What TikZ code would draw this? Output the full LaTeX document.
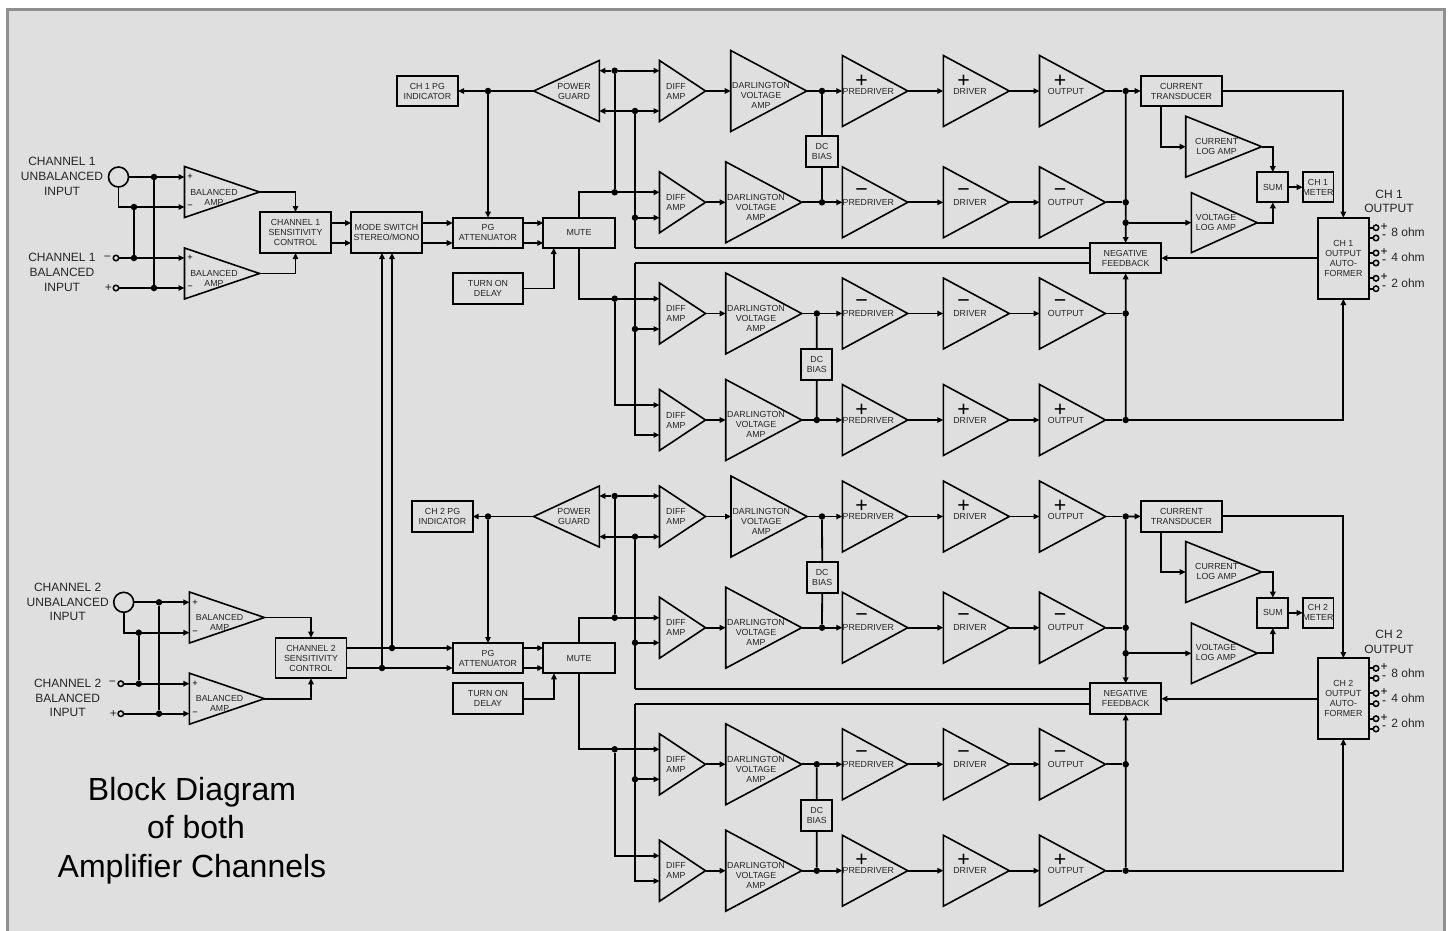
\documentclass[tikz,border=0pt]{standalone}
\usepackage{fontspec}
\setmainfont{Liberation Sans}
\usetikzlibrary{arrows.meta,shapes.geometric}
\newlength{\du}
\setlength{\du}{0.75pt}
\definecolor{dialinecolor}{rgb}{0.000000, 0.000000, 0.000000}
\definecolor{diafillcolor}{rgb}{0.874510, 0.874510, 0.874510}
\definecolor{diaframecolor}{rgb}{0.560000, 0.560000, 0.560000}
\definecolor{diatextcolor}{rgb}{0.150000, 0.150000, 0.150000}
\tikzset{
  >={Triangle[length=4.5pt,width=4.1pt]},
  wire/.style={line width=1.8\du,draw=dialinecolor},
  blockbody/.style={draw=dialinecolor,line width=1.8\du,inner sep=0pt,outer sep=0pt,align=center,text=diatextcolor,font=\fontsize{6.6}{7.5}\selectfont},
  ampbody/.style={draw=dialinecolor,line width=1.6\du,inner sep=0pt,outer sep=0pt,isosceles triangle,isosceles triangle stretches,anchor=lower side},
  smalltext/.style={inner sep=0pt,outer sep=0pt,align=center,text=diatextcolor,font=\fontsize{6.6}{7.5}\selectfont},
  bigtext/.style={inner sep=0pt,outer sep=0pt,align=center,text=diatextcolor,font=\fontsize{9}{11}\selectfont},
  titletext/.style={inner sep=0pt,outer sep=0pt,align=center,text=dialinecolor,font=\fontsize{24}{28.7}\selectfont},
  signtext/.style={inner sep=0pt,outer sep=0pt,text=dialinecolor,font=\fontsize{16}{16}\selectfont},
  tinysign/.style={inner sep=0pt,outer sep=0pt,text=dialinecolor,font=\fontsize{7}{7}\selectfont},
  tapsign/.style={inner sep=0pt,outer sep=0pt,text=dialinecolor,font=\fontsize{9}{9}\selectfont},
  dotnode/.style={circle,fill=dialinecolor,inner sep=0pt,outer sep=0pt,minimum size=6.5\du},
  portnode/.style={circle,draw=dialinecolor,line width=1.5\du,inner sep=0pt,outer sep=0pt,minimum size=5.5\du},
  jacknode/.style={circle,draw=dialinecolor,line width=1.6\du,inner sep=0pt,outer sep=0pt,minimum size=20\du}
}
% corners of the box, then its text
\newcommand{\blocknode}[6]{
  \node[blockbody,minimum width=#4\du-#2\du,minimum height=#5\du-#3\du] (#1) at (#2\du/2+#4\du/2,#3\du/2+#5\du/2) {#6};
}
% base x, middle y, length, height, text x, text y, text
\newcommand{\ampnode}[9][]{
  \node[ampbody,minimum height=#5\du,minimum width=#6\du,#1] (#2) at (#3\du,#4\du) {};
  \node[smalltext] (#2t) at (#7\du,#8\du) {#9};
}
% one row: name, y, darlington x, sign, junction x
\newcommand{\amprow}[5]{
  \pgfmathsetmacro{\rowtx}{#3+30.3}
  \pgfmathsetmacro{\rowty}{#2+4.7}
  \ampnode{#1d}{659.5}{#2}{46}{61}{676}{#2}{DIFF\\AMP}
  \ampnode{#1v}{#3}{#2}{76}{81}{\rowtx}{\rowty}{DARLINGTON\\VOLTAGE\\AMP}
  \ampnode{#1p}{842.3}{#2}{65.5}{71}{868.3}{#2}{PREDRIVER}
  \ampnode{#1r}{943.3}{#2}{66}{71}{970}{#2}{DRIVER}
  \ampnode{#1o}{1039.5}{#2}{66}{71}{1066}{#2}{OUTPUT}
  \node[signtext] (#1ps) at (861.7\du,#2\du-10\du) {#4};
  \node[signtext] (#1rs) at (963.7\du,#2\du-10\du) {#4};
  \node[signtext] (#1os) at (1060\du,#2\du-10\du) {#4};
  \node[dotnode] (#1j) at (#5\du,#2\du) {};
  \node[dotnode] (#1k) at (1125.7\du,#2\du) {};
  \draw[wire,->] (#1d.apex)--(#1v.lower side);
  \draw[wire] (#1v.apex)--(#1j);
  \draw[wire,->] (#1j)--(#1p.lower side);
  \draw[wire,->] (#1p.apex)--(#1r.lower side);
  \draw[wire,->] (#1r.apex)--(#1o.lower side);
  \draw[wire] (#1o.apex)--(#1k);
}
% one speaker terminal: name, y, sign, autoformer
\newcommand{\taplead}[4]{
  \node[portnode] (#1) at (1376\du,#2\du) {};
  \node[tapsign] (#1s) at (1384\du,#2\du-1\du) {#3};
  \draw[wire] (#1 -| #4.east)--(#1);
}
\begin{document}
\begin{tikzpicture}
\pgftransformxscale{1.000000}
\pgftransformyscale{-1.000000}
\useasboundingbox (0\du,0\du) rectangle (1449\du,931\du);
\fill[white] (0\du,0\du) rectangle (1449\du,931\du);
\fill[diafillcolor] (7.5\du,9.5\du) rectangle (1444.5\du,931\du);
\draw[diaframecolor,line width=3\du] (7.5\du,931\du)--(7.5\du,9.5\du)--(1444.5\du,9.5\du)--(1444.5\du,931\du);
\node[titletext] (title) at (192\du,830.5\du) {Block Diagram\\\hspace*{8\du}of both\\Amplifier Channels};
% channel 1 inputs
\node[bigtext] (ain1t) at (62\du,176.5\du) {CHANNEL 1\\UNBALANCED\\INPUT};
\node[bigtext] (ain2t) at (62\du,272.5\du) {CHANNEL 1\\BALANCED\\INPUT};
\node[jacknode] (ajack) at (118.5\du,177\du) {};
\node[portnode] (aneg) at (116\du,258\du) {};
\node[portnode] (apos) at (116\du,288\du) {};
\node[bigtext] (anegs) at (107.5\du,258\du) {−};
\node[bigtext] (aposs) at (108.5\du,288\du) {+};
\ampnode{aa1}{184.5}{192}{75}{51}{214}{197}{BALANCED\\AMP}
\ampnode{aa2}{184.5}{273.5}{75}{51}{214}{278}{BALANCED\\AMP}
\node[tinysign] (aa1p) at (190\du,177\du) {+};
\node[tinysign] (aa1m) at (190\du,207\du) {−};
\node[tinysign] (aa2p) at (190\du,258\du) {+};
\node[tinysign] (aa2m) at (190\du,288\du) {−};
\node[dotnode] (ad1) at (154\du,177\du) {};
\node[dotnode] (ad2) at (134\du,207\du) {};
\node[dotnode] (ad3) at (134\du,258\du) {};
\node[dotnode] (ad4) at (154\du,288\du) {};
\blocknode{asens}{260}{212}{331}{253}{CHANNEL 1\\SENSITIVITY\\CONTROL}
\blocknode{amode}{351}{212}{422}{253}{MODE SWITCH\\STEREO/MONO}
\blocknode{aatt}{452.7}{217.7}{523.3}{248}{PG\\ATTENUATOR}
\blocknode{amute}{543.3}{217.7}{614.7}{248}{MUTE}
\blocknode{adelay}{452.7}{273.3}{523.3}{304}{TURN ON\\DELAY}
\blocknode{aind}{396.7}{76}{458}{106}{CH 1 PG\\INDICATOR}
\ampnode[shape border rotate=180]{aguard}{599.3}{91}{65.6}{61}{574}{91}{POWER\\GUARD}
\coordinate (arail1) at (0\du,223\du);
\coordinate (arail2) at (0\du,243\du);
\draw[wire,->] (ajack)--(ajack -| aa1.lower side);
\draw[wire,->] (ajack.south) |- (ad2 -| aa1.lower side);
\draw[wire,->] (aneg)--(aneg -| aa2.lower side);
\draw[wire,->] (apos)--(apos -| aa2.lower side);
\draw[wire] (ad2)--(ad3);
\draw[wire] (ad1)--(ad4);
\draw[wire,->] (aa1.apex) -| (asens.north);
\draw[wire,->] (aa2.apex) -| (asens.south);
\draw[wire,->] (arail1 -| asens.east)--(arail1 -| amode.west);
\draw[wire,->] (arail2 -| asens.east)--(arail2 -| amode.west);
\draw[wire,->] (arail1 -| amode.east)--(arail1 -| aatt.west);
\draw[wire,->] (arail2 -| amode.east)--(arail2 -| aatt.west);
\draw[wire,->] (arail1 -| aatt.east)--(arail1 -| amute.west);
\draw[wire,->] (arail2 -| aatt.east)--(arail2 -| amute.west);
% channel 1 amplifier rows
\amprow{a1}{91}{730.7}{+}{822}
\amprow{a2}{202.3}{725.7}{−}{822}
\amprow{a3}{313.5}{725.7}{−}{816.8}
\amprow{a4}{420}{725.7}{+}{816.8}
\blocknode{a12b}{806.3}{136}{837.7}{167}{DC\\BIAS}
\blocknode{a34b}{801.3}{349.3}{832.3}{379.7}{DC\\BIAS}
\draw[wire] (a1j)--(a12b.north);
\draw[wire] (a12b.south)--(a2j);
\draw[wire] (a3j)--(a34b.north);
\draw[wire] (a34b.south)--(a4j);
\node[dotnode] (apg) at (488\du,91\du) {};
\node[dotnode] (ag1) at (614.7\du,70.7\du) {};
\node[dotnode] (ag2) at (635\du,111\du) {};
\node[dotnode] (am1) at (614.7\du,192.3\du) {};
\node[dotnode] (am2) at (635\du,217.7\du) {};
\node[dotnode] (am3) at (614.7\du,298.7\du) {};
\node[dotnode] (am4) at (635\du,329\du) {};
\coordinate (afb1) at (635\du,248.3\du);
\coordinate (afb2) at (635\du,262.7\du);
\coordinate (am5) at (614.7\du,405\du);
\coordinate (am6) at (635\du,435\du);
\coordinate (adx) at (553.7\du,288.5\du);
\draw[wire] (aguard.apex)--(apg);
\draw[wire,->] (apg)--(aind.east);
\draw[wire,->] (apg)--(aatt.north);
\draw[wire,->] (ag1)--(ag1 -| aguard.lower side);
\draw[wire,->] (ag1)--(ag1 -| a1d.lower side);
\draw[wire,->] (ag2)--(ag2 -| aguard.lower side);
\draw[wire,->] (ag2)--(ag2 -| a1d.lower side);
\draw[wire,->] (amute.north) |- (am1 -| a2d.lower side);
\draw[wire] (am1)--(ag1);
\draw[wire,->] (am2)--(am2 -| a2d.lower side);
\draw[wire] (ag2)--(afb1);
\draw[wire,->] (amute.south) |- (am3 -| a3d.lower side);
\draw[wire,->] (am3) |- (am5 -| a4d.lower side);
\draw[wire,->] (am4)--(am4 -| a3d.lower side);
\draw[wire,->] (adelay.east |- adx)--(adx)--(adx |- amute.south);
% channel 1 output side
\blocknode{anf}{1090}{243}{1161.3}{273.3}{NEGATIVE\\FEEDBACK}
\blocknode{act}{1140.7}{76}{1222.3}{106}{CURRENT\\TRANSDUCER}
\blocknode{asum}{1257.3}{172}{1288.3}{202.3}{SUM}
\blocknode{ameter}{1302.7}{172}{1333.3}{202.3}{CH 1\\METER}
\blocknode{aout}{1318}{217.7}{1368.7}{299}{CH 1\\OUTPUT\\AUTO-\\FORMER}
\ampnode{acl}{1185.7}{146.7}{76}{61}{1216.7}{146}{CURRENT\\LOG AMP}
\ampnode{avl}{1191.3}{222.7}{66}{60}{1216}{222.3}{VOLTAGE\\LOG AMP}
\node[dotnode] (ajv) at (1125.7\du,222.7\du) {};
\coordinate (acx) at (1161\du,106\du);
\draw[wire] (afb1)--(afb1 -| anf.west);
\draw[wire] (afb2 -| anf.west)--(afb2);
\draw[wire,->] (afb2) |- (am6 -| a4d.lower side);
\draw[wire,->] (a1k)--(anf.north);
\draw[wire,->] (a4k)--(anf.south);
\draw[wire,->] (a1k)--(act.west);
\draw[wire,->] (act.east) -| (aout.north);
\draw[wire,->] (acx) |- (acl.lower side);
\draw[wire,->] (acl.apex) -| (asum.north);
\draw[wire,->] (ajv)--(avl.lower side);
\draw[wire,->] (avl.apex) -| (asum.south);
\draw[wire,->] (asum.east)--(ameter.west);
\draw[wire,->] (a4k) -| (aout.south);
\draw[wire,->] (anf.east -| aout.west)--(anf.east);
\taplead{at1}{227.7}{+}{aout}
\taplead{at2}{238}{-}{aout}
\taplead{at3}{253}{+}{aout}
\taplead{at4}{263}{-}{aout}
\taplead{at5}{278.3}{+}{aout}
\taplead{at6}{288.7}{-}{aout}
\node[bigtext] (aot) at (1389\du,201.5\du) {CH 1\\OUTPUT};
\node[bigtext] (aoh1) at (1408\du,232.3\du) {8 ohm};
\node[bigtext] (aoh2) at (1408\du,257.7\du) {4 ohm};
\node[bigtext] (aoh3) at (1408\du,283\du) {2 ohm};
% channel 2 inputs
\node[bigtext] (bin1t) at (67.7\du,602\du) {CHANNEL 2\\UNBALANCED\\INPUT};
\node[bigtext] (bin2t) at (67.7\du,698\du) {CHANNEL 2\\BALANCED\\INPUT};
\node[jacknode] (bjack) at (123.7\du,602.3\du) {};
\node[portnode] (bneg) at (120.8\du,683.7\du) {};
\node[portnode] (bpos) at (120.8\du,713.7\du) {};
\node[bigtext] (bnegs) at (112.3\du,683.7\du) {−};
\node[bigtext] (bposs) at (113.3\du,713.7\du) {+};
\ampnode{ba1}{189.4}{617.5}{75}{51}{219.6}{622}{BALANCED\\AMP}
\ampnode{ba2}{189.4}{698.7}{75}{51}{219.6}{703}{BALANCED\\AMP}
\node[tinysign] (ba1p) at (195\du,602.3\du) {+};
\node[tinysign] (ba1m) at (195\du,632.7\du) {−};
\node[tinysign] (ba2p) at (195\du,683.7\du) {+};
\node[tinysign] (ba2m) at (195\du,713.7\du) {−};
\node[dotnode] (bd1) at (159\du,602.3\du) {};
\node[dotnode] (bd2) at (138.8\du,632.7\du) {};
\node[dotnode] (bd3) at (138.8\du,683.7\du) {};
\node[dotnode] (bd4) at (159\du,713.7\du) {};
\blocknode{bsens}{275.5}{637.7}{346.5}{678.3}{CHANNEL 2\\SENSITIVITY\\CONTROL}
\blocknode{batt}{452.7}{643}{523.3}{673.3}{PG\\ATTENUATOR}
\blocknode{bmute}{543.3}{643}{614.7}{673.3}{MUTE}
\blocknode{bdelay}{452.7}{683.3}{523.3}{714.3}{TURN ON\\DELAY}
\blocknode{bind}{412.3}{501}{472.7}{532}{CH 2 PG\\INDICATOR}
\ampnode[shape border rotate=180]{bguard}{599.3}{516.5}{65.6}{61}{574}{516.5}{POWER\\GUARD}
\node[dotnode] (bm1) at (392\du,648\du) {};
\node[dotnode] (bm2) at (382\du,668\du) {};
\draw[wire,->] (bjack)--(bjack -| ba1.lower side);
\draw[wire,->] (bjack.south) |- (bd2 -| ba1.lower side);
\draw[wire,->] (bneg)--(bneg -| ba2.lower side);
\draw[wire,->] (bpos)--(bpos -| ba2.lower side);
\draw[wire] (bd2)--(bd3);
\draw[wire] (bd1)--(bd4);
\draw[wire,->] (ba1.apex) -| (bsens.north);
\draw[wire,->] (ba2.apex) -| (bsens.south);
\draw[wire,->] (bm1 -| bsens.east)--(bm1 -| batt.west);
\draw[wire,->] (bm2 -| bsens.east)--(bm2 -| batt.west);
\draw[wire,->] (bm1 -| batt.east)--(bm1 -| bmute.west);
\draw[wire,->] (bm2 -| batt.east)--(bm2 -| bmute.west);
\draw[wire,->] (bm1)--(bm1 |- amode.south);
\draw[wire,->] (bm2)--(bm2 |- amode.south);
% channel 2 amplifier rows
\amprow{b1}{516.5}{731}{+}{822}
\amprow{b2}{627.7}{725.7}{−}{822}
\amprow{b3}{764.3}{725.7}{−}{816.8}
\amprow{b4}{870.7}{725.7}{+}{816.8}
\blocknode{b12b}{806.7}{561.7}{837.7}{592.7}{DC\\BIAS}
\blocknode{b34b}{801.3}{799.7}{832.3}{830.7}{DC\\BIAS}
\draw[wire] (b1j)--(b12b.north);
\draw[wire] (b12b.south)--(b2j);
\draw[wire] (b3j)--(b34b.north);
\draw[wire] (b34b.south)--(b4j);
\node[dotnode] (bpg) at (488\du,516.5\du) {};
\node[dotnode] (bg1) at (614.7\du,496\du) {};
\node[dotnode] (bg2) at (635\du,536.7\du) {};
\node[dotnode] (bn1) at (614.7\du,617.7\du) {};
\node[dotnode] (bn2) at (635\du,642.7\du) {};
\node[dotnode] (bn3) at (614.7\du,749.3\du) {};
\node[dotnode] (bn4) at (635\du,779.3\du) {};
\coordinate (bfb1) at (635\du,688.7\du);
\coordinate (bfb2) at (635\du,703.7\du);
\coordinate (bn5) at (614.7\du,855.7\du);
\coordinate (bn6) at (635\du,881\du);
\coordinate (bdx) at (554\du,699\du);
\draw[wire] (bguard.apex)--(bpg);
\draw[wire,->] (bpg)--(bind.east);
\draw[wire,->] (bpg)--(batt.north);
\draw[wire,->] (bg1)--(bg1 -| bguard.lower side);
\draw[wire,->] (bg1)--(bg1 -| b1d.lower side);
\draw[wire,->] (bg2)--(bg2 -| bguard.lower side);
\draw[wire,->] (bg2)--(bg2 -| b1d.lower side);
\draw[wire,->] (bmute.north) |- (bn1 -| b2d.lower side);
\draw[wire] (bn1)--(bg1);
\draw[wire,->] (bn2)--(bn2 -| b2d.lower side);
\draw[wire] (bg2)--(bfb1);
\draw[wire,->] (bmute.south) |- (bn3 -| b3d.lower side);
\draw[wire,->] (bn3) |- (bn5 -| b4d.lower side);
\draw[wire,->] (bn4)--(bn4 -| b3d.lower side);
\draw[wire,->] (bdelay.east |- bdx)--(bdx)--(bdx |- bmute.south);
% channel 2 output side
\blocknode{bnf}{1090}{683.3}{1161.3}{714.3}{NEGATIVE\\FEEDBACK}
\blocknode{bct}{1140.7}{501}{1222.3}{531.7}{CURRENT\\TRANSDUCER}
\blocknode{bsum}{1257.3}{597.7}{1288.3}{628}{SUM}
\blocknode{bmeter}{1302.7}{597.7}{1333.3}{628}{CH 2\\METER}
\blocknode{bout}{1318}{658}{1368.7}{739}{CH 2\\OUTPUT\\AUTO-\\FORMER}
\ampnode{bcl}{1185.7}{572}{76}{61}{1216.7}{571}{CURRENT\\LOG AMP}
\ampnode{bvl}{1191.3}{653.3}{66}{60.6}{1216}{652.8}{VOLTAGE\\LOG AMP}
\node[dotnode] (bjv) at (1125.7\du,653.3\du) {};
\coordinate (bcx) at (1161\du,531.7\du);
\draw[wire] (bfb1)--(bfb1 -| bnf.west);
\draw[wire] (bfb2 -| bnf.west)--(bfb2);
\draw[wire,->] (bfb2) |- (bn6 -| b4d.lower side);
\draw[wire,->] (b1k)--(bnf.north);
\draw[wire,->] (b4k)--(bnf.south);
\draw[wire,->] (b1k)--(bct.west);
\draw[wire,->] (bct.east) -| (bout.north);
\draw[wire,->] (bcx) |- (bcl.lower side);
\draw[wire,->] (bcl.apex) -| (bsum.north);
\draw[wire,->] (bjv)--(bvl.lower side);
\draw[wire,->] (bvl.apex) -| (bsum.south);
\draw[wire,->] (bsum.east)--(bmeter.west);
\draw[wire,->] (b4k) -| (bout.south);
\draw[wire,->] (bnf.east -| bout.west)--(bnf.east);
\taplead{bt1}{668.3}{+}{bout}
\taplead{bt2}{678.3}{-}{bout}
\taplead{bt3}{693.3}{+}{bout}
\taplead{bt4}{703.7}{-}{bout}
\taplead{bt5}{718.7}{+}{bout}
\taplead{bt6}{729}{-}{bout}
\node[bigtext] (bot) at (1389\du,642\du) {CH 2\\OUTPUT};
\node[bigtext] (boh1) at (1408\du,673\du) {8 ohm};
\node[bigtext] (boh2) at (1408\du,698\du) {4 ohm};
\node[bigtext] (boh3) at (1408\du,723\du) {2 ohm};
\end{tikzpicture}
\end{document}
